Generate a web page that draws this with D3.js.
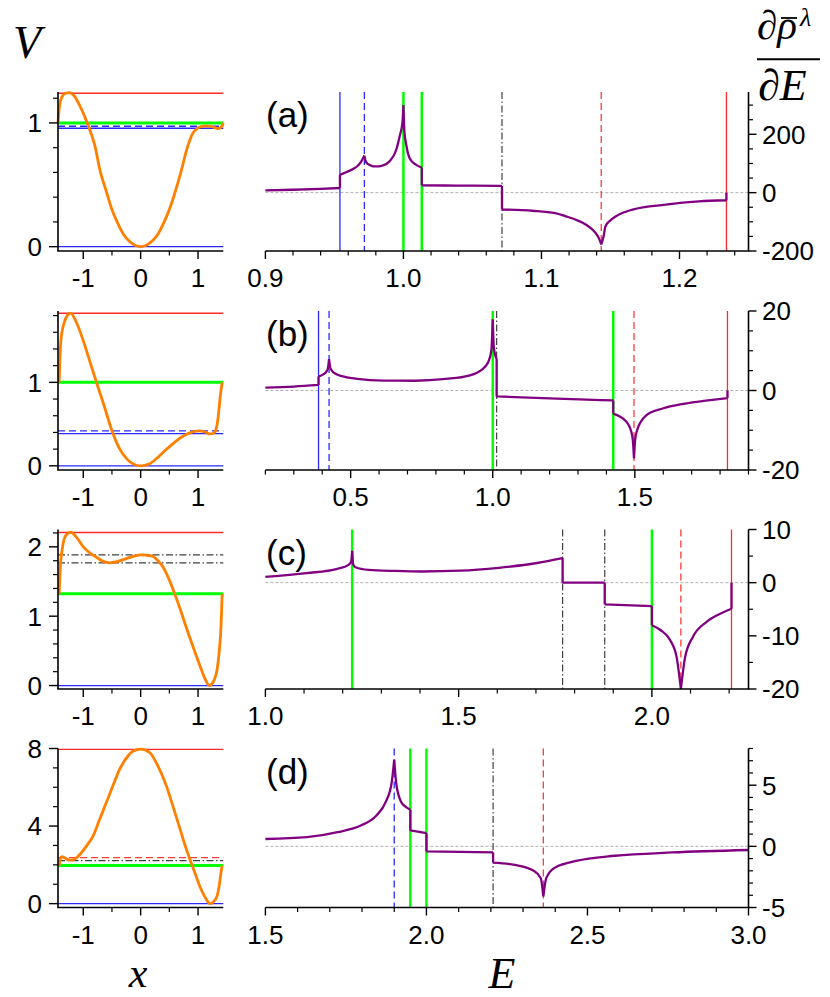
<!DOCTYPE html>
<html><head><meta charset="utf-8">
<script src="https://cdn.jsdelivr.net/npm/d3@7"></script>
<style>body{margin:0;background:#fff} svg{display:block}</style>
</head><body><svg id="chart" width="830" height="997"></svg>
<script>
// ---------------- DATA ----------------
const panelLabels = ["(a)", "(b)", "(c)", "(d)"];

// left panels: potential V(x)
const xDomainV = [-1.44, 1.44];
const xTicksV = [-1, 0, 1];
const xTickLabelsV = ["-1", "0", "1"];
const xMinorV = [-0.5, 0.5];

const vDomainA = [-0.035, 1.25], vDomainB = [-0.05, 1.855], vDomainC = [-0.05, 2.25], vDomainD = [-0.2, 8.0];
const vTicksA = [0, 1], vTicksB = [0, 1], vTicksC = [0, 1, 2], vTicksD = [0, 4, 8];
const vMinorA = [0.2, 0.4, 0.6, 0.8, 1.2];
const vMinorB = [0.2, 0.4, 0.6, 0.8, 1.2, 1.4, 1.6, 1.8];
const vMinorC = [0.2, 0.4, 0.6, 0.8, 1.2, 1.4, 1.6, 1.8, 2.2];
const vMinorD = [1, 2, 3, 5, 6, 7];

const potentialA = [[-1.44,1.0],[-1.41,1.15],[-1.37,1.21],[-1.31,1.24],[-1.24,1.245],[-1.16,1.22],[-1.06,1.14],[-0.93,1.0],[-0.8,0.82],[-0.7,0.6],[-0.6,0.45],[-0.5,0.3],[-0.4,0.19],[-0.3,0.1],[-0.2,0.045],[-0.1,0.011],[0,0],[0.1,0.011],[0.2,0.045],[0.3,0.1],[0.4,0.19],[0.5,0.3],[0.6,0.44],[0.7,0.6],[0.8,0.78],[0.9,0.91],[1.0,0.96],[1.1,0.975],[1.2,0.975],[1.3,0.96],[1.36,0.955],[1.41,0.97],[1.44,1.0]];
const potentialB = [[-1.42,1.0],[-1.39,1.5],[-1.33,1.72],[-1.28,1.8],[-1.22,1.83],[-1.12,1.72],[-1.0,1.5],[-0.88,1.24],[-0.77,1.0],[-0.65,0.75],[-0.5,0.42],[-0.38,0.22],[-0.25,0.09],[-0.12,0.02],[0,0],[0.14,0.02],[0.28,0.09],[0.42,0.18],[0.57,0.27],[0.75,0.36],[0.92,0.41],[1.03,0.418],[1.12,0.405],[1.21,0.382],[1.27,0.39],[1.31,0.43],[1.35,0.58],[1.37,0.71],[1.39,0.85],[1.42,1.0]];
const potentialC = [[-1.42,1.32],[-1.40,1.7],[-1.36,2.0],[-1.30,2.17],[-1.22,2.21],[-1.12,2.14],[-1.0,2.0],[-0.88,1.91],[-0.77,1.85],[-0.65,1.79],[-0.54,1.77],[-0.4,1.79],[-0.25,1.83],[-0.1,1.87],[0,1.885],[0.1,1.88],[0.22,1.86],[0.3,1.8],[0.39,1.71],[0.48,1.56],[0.57,1.375],[0.69,1.1],[0.81,0.8],[0.93,0.52],[1.04,0.27],[1.12,0.1],[1.2,0],[1.27,0.06],[1.33,0.22],[1.37,0.5],[1.40,0.85],[1.42,1.32]];
const potentialD = [[-1.42,1.96],[-1.40,2.3],[-1.37,2.42],[-1.33,2.38],[-1.28,2.28],[-1.21,2.24],[-1.13,2.33],[-1.06,2.53],[-0.95,2.95],[-0.83,3.48],[-0.72,4.3],[-0.6,5.2],[-0.48,6.1],[-0.37,6.9],[-0.25,7.5],[-0.13,7.87],[0,7.97],[0.16,7.78],[0.3,7.1],[0.45,6.06],[0.57,4.95],[0.69,3.82],[0.78,2.95],[0.86,2.27],[0.95,1.55],[1.03,0.9],[1.12,0.35],[1.19,0.03],[1.22,0],[1.27,0.1],[1.33,0.38],[1.37,0.95],[1.40,1.6],[1.42,1.96]];

// horizontal reference levels (left panels)
const levelsA = [{v:1.24,kind:"redSolid"},{v:1.0,kind:"green"},{v:0.973,kind:"blueDash"},{v:0.957,kind:"blueSolid"},{v:0,kind:"blueSolid"}];
const levelsB = [{v:1.828,kind:"redSolid"},{v:1.0,kind:"green"},{v:0.418,kind:"blueDash"},{v:0.387,kind:"blueSolid"},{v:0,kind:"blueSolid"}];
const levelsC = [{v:2.207,kind:"redSolid"},{v:1.885,kind:"dashDot"},{v:1.77,kind:"dashDot"},{v:1.322,kind:"green"},{v:0,kind:"blueSolid"}];
const levelsD = [{v:7.95,kind:"redSolid"},{v:2.37,kind:"redDash"},{v:2.22,kind:"dashDot"},{v:1.96,kind:"green"},{v:0,kind:"blueSolid"}];

// right panels: d rho / dE
const eDomainA = [0.9, 1.25], eDomainB = [0.2, 1.9], eDomainC = [1.0, 2.25], eDomainD = [1.5, 3.0];
const eTicksA = [0.9, 1.0, 1.1, 1.2], eTicksB = [0.5, 1.0, 1.5], eTicksC = [1.0, 1.5, 2.0], eTicksD = [1.5, 2.0, 2.5, 3.0];
const eTickLabelsA = ["0.9","1.0","1.1","1.2"], eTickLabelsB = ["0.5","1.0","1.5"], eTickLabelsC = ["1.0","1.5","2.0"], eTickLabelsD = ["1.5","2.0","2.5","3.0"];
const eMinorStep = [0.02, 0.1, 0.1, 0.1];

const rDomainA = [-200, 345], rDomainB = [-20, 20], rDomainC = [-20, 10], rDomainD = [-5, 8];
const rTicksA = [-200, 0, 200], rTicksB = [-20, 0, 20], rTicksC = [-20, -10, 0, 10], rTicksD = [-5, 0, 5];
const rTickLabelsA = ["-200","0","200"], rTickLabelsB = ["-20","0","20"], rTickLabelsC = ["-20","-10","0","10"], rTickLabelsD = ["-5","0","5"];
const rMinorStep = [50, 5, 5, 1];

const eLinesA = [{e:0.954,kind:"blueSolid"},{e:0.9717,kind:"blueDash"},{e:1.0,kind:"green"},{e:1.0133,kind:"green"},{e:1.0714,kind:"dashDot"},{e:1.1433,kind:"redDash"},{e:1.234,kind:"redSolid"}];
const eLinesB = [{e:0.387,kind:"blueSolid"},{e:0.424,kind:"blueDash"},{e:1.0,kind:"green"},{e:1.0137,kind:"dashDot"},{e:1.424,kind:"green"},{e:1.497,kind:"redDash"},{e:1.826,kind:"redSolid"}];
const eLinesC = [{e:1.2246,kind:"green"},{e:1.769,kind:"dashDot"},{e:1.878,kind:"dashDot"},{e:2.0,kind:"green"},{e:2.075,kind:"redDash"},{e:2.206,kind:"redSolid"}];
const eLinesD = [{e:1.9,kind:"blueDash"},{e:1.95,kind:"green"},{e:2.0,kind:"green"},{e:2.207,kind:"dashDot"},{e:2.363,kind:"redDash"}];

// piecewise curve segments [E, value]
const dosA = [
  [[0.9,7.8],[0.92,10],[0.94,13],[0.954,16]],
  [[0.954,61],[0.9585,70],[0.9635,81],[0.9675,95],[0.9695,107],[0.9717,127]],
  [[0.9717,127],[0.9725,110],[0.9736,101],[0.976,94],[0.978,90],[0.982,90],[0.985,93],[0.99,108],[0.9948,147],[0.9972,192],[0.9993,240],[1.0,300]],
  [[1.0,300],[1.0007,210],[1.002,165],[1.0045,118],[1.009,96],[1.0133,86]],
  [[1.0133,25],[1.03,24.5],[1.05,24],[1.0714,23]],
  [[1.0714,-58],[1.0935,-62],[1.11,-70],[1.1176,-81],[1.126,-95],[1.132,-109],[1.139,-137],[1.1415,-155],[1.1433,-177]],
  [[1.1433,-177],[1.145,-150],[1.1464,-115],[1.15,-95],[1.154,-81],[1.166,-58],[1.19,-41],[1.214,-30],[1.234,-26]],
  [[1.234,0]]
];
const dosB = [
  [[0.2,0.7],[0.3,1.0],[0.387,1.4]],
  [[0.387,3.5],[0.405,4.1],[0.414,4.7],[0.42,5.6],[0.424,7.9]],
  [[0.424,7.9],[0.428,5.8],[0.4336,5.0],[0.45,4.1],[0.469,3.6],[0.523,2.95],[0.618,2.5],[0.726,2.45],[0.835,2.9],[0.916,3.75],[0.957,5.0],[0.984,7.1],[0.995,10],[1.0,17.9]],
  [[1.0,17.9],[1.004,10.8],[1.0137,7.9]],
  [[1.0137,-1.5],[1.2,-2.0],[1.424,-2.5]],
  [[1.424,-5.8],[1.459,-7.1],[1.475,-8.3],[1.486,-10],[1.493,-12.5],[1.497,-17.1]],
  [[1.497,-17.1],[1.501,-12.5],[1.508,-10],[1.52,-8],[1.54,-6.25],[1.595,-4.6],[1.677,-3.3],[1.758,-2.5],[1.826,-1.9]],
  [[1.826,0]]
];
const dosC = [
  [[1.0,1.1],[1.107,1.8],[1.186,2.6],[1.216,3.4],[1.222,4.0],[1.2246,6.0]],
  [[1.2246,6.0],[1.227,3.5],[1.233,2.9],[1.267,2.4],[1.336,2.2],[1.405,2.1],[1.505,2.25],[1.604,2.8],[1.703,3.7],[1.769,4.6]],
  [[1.769,0],[1.878,0]],
  [[1.878,-4.1],[2.0,-4.4]],
  [[2.0,-8.0],[2.022,-8.9],[2.047,-10.8],[2.064,-14],[2.075,-20]],
  [[2.075,-20],[2.086,-14],[2.106,-10.2],[2.141,-7.4],[2.181,-5.7],[2.206,-4.9]],
  [[2.206,0]]
];
const dosD = [
  [[1.5,0.6],[1.629,0.75],[1.724,1.16],[1.796,1.7],[1.844,2.5],[1.874,3.65],[1.892,5.2],[1.9,7.1]],
  [[1.9,7.1],[1.906,5.2],[1.921,3.65],[1.935,3.25],[1.95,3.0]],
  [[1.95,1.3],[2.0,1.08]],
  [[2.0,-0.41],[2.207,-0.5]],
  [[2.207,-1.33],[2.274,-1.52],[2.333,-2.0],[2.355,-2.6],[2.363,-4.1]],
  [[2.363,-4.1],[2.372,-2.6],[2.399,-1.74],[2.465,-1.19],[2.585,-0.77],[2.764,-0.5],[3.0,-0.3]]
];

// ---------------- DRAWING ----------------
const panels = [
  {vDomain:vDomainA, vTicks:vTicksA, vMinor:vMinorA, pot:potentialA, levels:levelsA, eDomain:eDomainA, eTicks:eTicksA, eLabels:eTickLabelsA, rDomain:rDomainA, rTicks:rTicksA, rLabels:rTickLabelsA, eLines:eLinesA, dos:dosA},
  {vDomain:vDomainB, vTicks:vTicksB, vMinor:vMinorB, pot:potentialB, levels:levelsB, eDomain:eDomainB, eTicks:eTicksB, eLabels:eTickLabelsB, rDomain:rDomainB, rTicks:rTicksB, rLabels:rTickLabelsB, eLines:eLinesB, dos:dosB},
  {vDomain:vDomainC, vTicks:vTicksC, vMinor:vMinorC, pot:potentialC, levels:levelsC, eDomain:eDomainC, eTicks:eTicksC, eLabels:eTickLabelsC, rDomain:rDomainC, rTicks:rTicksC, rLabels:rTickLabelsC, eLines:eLinesC, dos:dosC},
  {vDomain:vDomainD, vTicks:vTicksD, vMinor:vMinorD, pot:potentialD, levels:levelsD, eDomain:eDomainD, eTicks:eTicksD, eLabels:eTickLabelsD, rDomain:rDomainD, rTicks:rTicksD, rLabels:rTickLabelsD, eLines:eLinesD, dos:dosD}
];

const styles = {
  redSolid:{stroke:"#ff2a2a", w:1.3, dash:null},
  redDash:{stroke:"#ff3b3b", w:1.3, dash:"7,4"},
  green:{stroke:"#00ff00", w:3, dash:null},
  blueSolid:{stroke:"#2a2aff", w:1.3, dash:null},
  blueDash:{stroke:"#2a2aff", w:1.3, dash:"7,4"},
  dashDot:{stroke:"#404040", w:1.2, dash:"7,2.5,1.5,2.5"}
};

const svg = d3.select("#chart");
svg.append("rect").attr("width",830).attr("height",997).attr("fill","#fff");

const LX0 = 58, LX1 = 223.3, RX0 = 265.4, RX1 = 748.5;
const rowTop = [92, 311, 529.5, 748.5];
const rowBot = [251, 470, 689, 907.5];
const sansFont = "'Liberation Sans', Arial, sans-serif";
const serifFont = "'Liberation Serif', 'Times New Roman', serif";
const tickFont = 26;

const xs = d3.scaleLinear().domain(xDomainV).range([LX0, LX1]);

function applyStyle(sel, kind, wOverride){
  const s = styles[kind];
  sel.attr("stroke", s.stroke).attr("stroke-width", wOverride || s.w).attr("fill","none");
  if (s.dash) sel.attr("stroke-dasharray", s.dash);
}

panels.forEach((p, i) => {
  const top = rowTop[i], bot = rowBot[i];
  // ---------- left panel ----------
  const vs = d3.scaleLinear().domain(p.vDomain).range([bot, top]);
  const gl = svg.append("g");
  p.levels.forEach(l => {
    const ln = gl.append("line").attr("x1", LX0).attr("x2", LX1).attr("y1", vs(l.v)).attr("y2", vs(l.v));
    applyStyle(ln, l.kind);
  });
  gl.append("path").datum(p.pot)
    .attr("d", d3.line().x(d=>xs(d[0])).y(d=>vs(d[1])).curve(d3.curveMonotoneX))
    .attr("fill","none").attr("stroke","#ff8000").attr("stroke-width",2.8).attr("stroke-linejoin","round");
  // axes
  gl.append("line").attr("x1",LX0).attr("x2",LX0).attr("y1",top).attr("y2",bot).attr("stroke","#000").attr("stroke-width",1.6);
  gl.append("line").attr("x1",LX0-0.8).attr("x2",LX1).attr("y1",bot).attr("y2",bot).attr("stroke","#000").attr("stroke-width",1.6);
  p.vTicks.forEach(t => {
    gl.append("line").attr("x1",LX0-9).attr("x2",LX0).attr("y1",vs(t)).attr("y2",vs(t)).attr("stroke","#000").attr("stroke-width",1.4);
    gl.append("text").attr("x",42).attr("y",vs(t)).attr("dy","0.36em").attr("text-anchor","end")
      .attr("font-family",sansFont).attr("font-size",tickFont).text(String(t));
  });
  p.vMinor.forEach(t => {
    gl.append("line").attr("x1",LX0-5).attr("x2",LX0).attr("y1",vs(t)).attr("y2",vs(t)).attr("stroke","#000").attr("stroke-width",1.2);
  });
  xTicksV.forEach((t, k) => {
    gl.append("line").attr("x1",xs(t)).attr("x2",xs(t)).attr("y1",bot).attr("y2",bot+8).attr("stroke","#000").attr("stroke-width",1.4);
    gl.append("text").attr("x",xs(t)).attr("y",bot+36).attr("text-anchor","middle")
      .attr("font-family",sansFont).attr("font-size",tickFont).text(xTickLabelsV[k]);
  });
  xMinorV.forEach(t => {
    gl.append("line").attr("x1",xs(t)).attr("x2",xs(t)).attr("y1",bot).attr("y2",bot+4.5).attr("stroke","#000").attr("stroke-width",1.2);
  });

  // ---------- right panel ----------
  const es = d3.scaleLinear().domain(p.eDomain).range([RX0, RX1]);
  const rs = d3.scaleLinear().domain(p.rDomain).range([bot, top]);
  const gr = svg.append("g");
  // zero line
  gr.append("line").attr("x1",RX0).attr("x2",RX1).attr("y1",rs(0)).attr("y2",rs(0))
    .attr("stroke","#b0b0b0").attr("stroke-width",1).attr("stroke-dasharray","3,2");
  p.eLines.forEach(l => {
    const ln = gr.append("line").attr("x1",es(l.e)).attr("x2",es(l.e)).attr("y1",top).attr("y2",bot);
    applyStyle(ln, l.kind, l.kind === "green" ? 2.5 : null);
  });
  // curve
  const curveGen = d3.line().x(d=>es(d[0])).y(d=>rs(d[1])).curve(d3.curveMonotoneX);
  const linGen = d3.line().x(d=>es(d[0])).y(d=>rs(d[1]));
  let dstr = "";
  p.dos.forEach((seg, k) => {
    if (k > 0) {
      const prev = p.dos[k-1];
      dstr += linGen([prev[prev.length-1], seg[0]]);
    }
    if (seg.length > 1) dstr += curveGen(seg);
  });
  gr.append("path").attr("d", dstr).attr("fill","none").attr("stroke","#800080")
    .attr("stroke-width",2.3).attr("stroke-linejoin","round").attr("stroke-linecap","butt");
  // axes
  gr.append("line").attr("x1",RX0).attr("x2",RX1+0.8).attr("y1",bot).attr("y2",bot).attr("stroke","#000").attr("stroke-width",1.6);
  gr.append("line").attr("x1",RX1).attr("x2",RX1).attr("y1",top).attr("y2",bot).attr("stroke","#000").attr("stroke-width",1.6);
  const eMajorSet = p.eTicks.map(v => Math.round(v*1000));
  const eMin = d3.range(p.eDomain[0], p.eDomain[1] + 1e-9, eMinorStep[i]).filter(v => !eMajorSet.includes(Math.round(v*1000)));
  eMin.forEach(t => {
    gr.append("line").attr("x1",es(t)).attr("x2",es(t)).attr("y1",bot).attr("y2",bot+4.5).attr("stroke","#000").attr("stroke-width",1.2);
  });
  p.eTicks.forEach((t, k) => {
    gr.append("line").attr("x1",es(t)).attr("x2",es(t)).attr("y1",bot).attr("y2",bot+8).attr("stroke","#000").attr("stroke-width",1.4);
    gr.append("text").attr("x",es(t)).attr("y",bot+36).attr("text-anchor","middle")
      .attr("font-family",sansFont).attr("font-size",tickFont).text(p.eLabels[k]);
  });
  const rMajorSet = p.rTicks.map(v => Math.round(v*1000));
  const rMin = d3.range(p.rDomain[0], p.rDomain[1] + 1e-9, rMinorStep[i]).filter(v => !rMajorSet.includes(Math.round(v*1000)));
  rMin.forEach(t => {
    gr.append("line").attr("x1",RX1).attr("x2",RX1+4.5).attr("y1",rs(t)).attr("y2",rs(t)).attr("stroke","#000").attr("stroke-width",1.2);
  });
  p.rTicks.forEach((t, k) => {
    gr.append("line").attr("x1",RX1).attr("x2",RX1+8).attr("y1",rs(t)).attr("y2",rs(t)).attr("stroke","#000").attr("stroke-width",1.4);
    gr.append("text").attr("x",762).attr("y",rs(t)).attr("dy","0.36em").attr("text-anchor","start")
      .attr("font-family",sansFont).attr("font-size",tickFont).text(p.rLabels[k]);
  });
  // panel label
  gr.append("text").attr("x",266).attr("y",top+35).attr("font-family",sansFont).attr("font-size",35).text(panelLabels[i]);
});

// axis titles
svg.append("text").attr("x",13).attr("y",58).attr("font-family",serifFont).attr("font-style","italic").attr("font-size",46).text("V");
svg.append("text").attr("x",138).attr("y",987).attr("text-anchor","middle").attr("font-family",serifFont).attr("font-style","italic").attr("font-size",42).text("x");
svg.append("text").attr("x",502).attr("y",988).attr("text-anchor","middle").attr("font-family",serifFont).attr("font-style","italic").attr("font-size",44).text("E");
// d rho-bar^lambda / dE
const frac = svg.append("g").attr("font-family",serifFont).attr("font-style","italic");
frac.append("text").attr("x",757).attr("y",39).attr("font-size",41).text("∂ρ");
frac.append("text").attr("x",800).attr("y",26).attr("font-size",26).text("λ");
frac.append("line").attr("x1",781).attr("x2",797).attr("y1",18).attr("y2",18).attr("stroke","#000").attr("stroke-width",1.8);
frac.append("line").attr("x1",757).attr("x2",820).attr("y1",59.3).attr("y2",59.3).attr("stroke","#000").attr("stroke-width",2);
frac.append("text").attr("x",758).attr("y",100).attr("font-size",44).text("∂E");
</script></body></html>
